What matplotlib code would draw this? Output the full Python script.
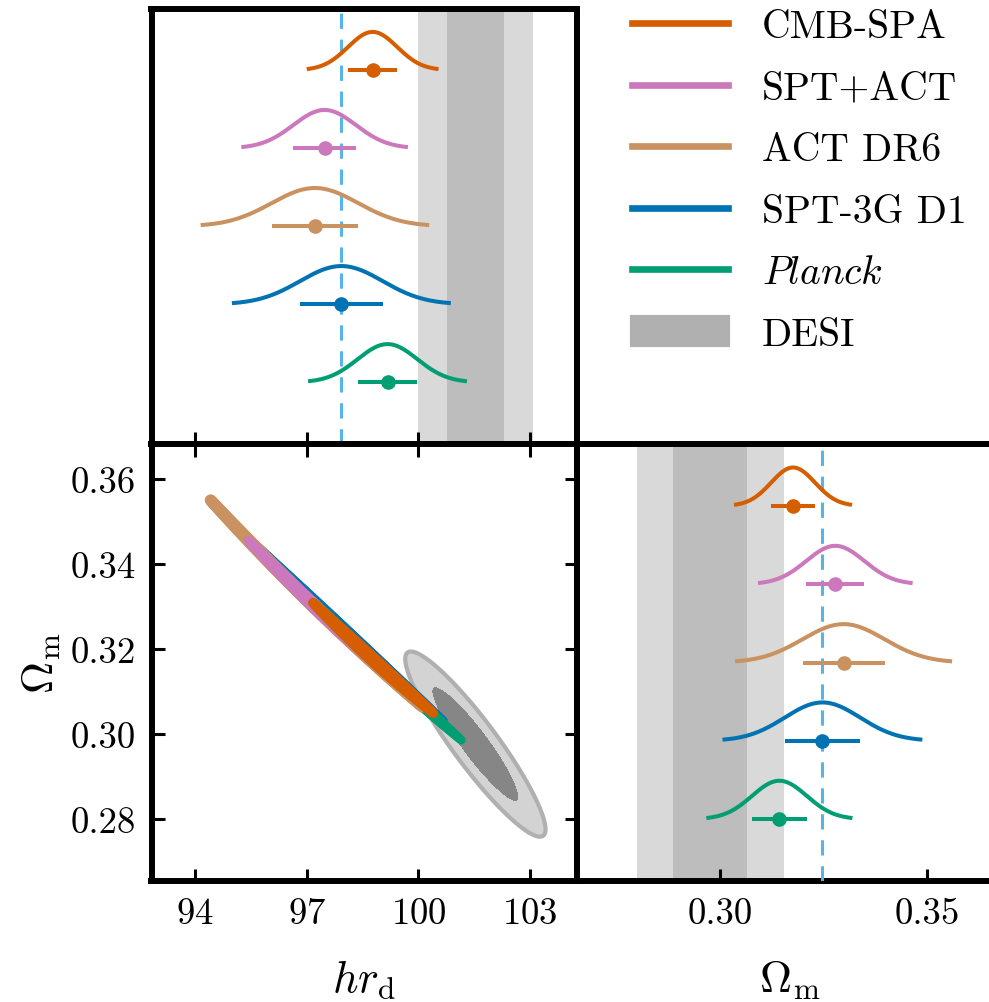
import numpy as np
import matplotlib.pyplot as plt
from matplotlib.lines import Line2D
from matplotlib.patches import Patch
from matplotlib.collections import LineCollection

plt.rcParams['font.family'] = 'serif'
plt.rcParams['font.serif'] = ['cmr10', 'DejaVu Serif']
plt.rcParams['mathtext.fontset'] = 'cm'
plt.rcParams['axes.formatter.use_mathtext'] = True

# CMB constraints: mean and 1-sigma of h*r_d and Omega_m
names = ['CMB-SPA', 'SPT+ACT', 'ACT DR6', 'SPT-3G D1', r'$Planck$']
colors = ['#d55e00', '#cc78bc', '#ca9161', '#0173b2', '#029e73']
hrd_mean = np.array([98.77, 97.48, 97.22, 97.93, 99.17])
hrd_err = np.array([0.66, 0.84, 1.16, 1.11, 0.80])
om_mean = np.array([0.3176, 0.3278, 0.3298, 0.3247, 0.3143])
om_err = np.array([0.0053, 0.0070, 0.0099, 0.0091, 0.0066])

# DESI BAO
desi_hrd, desi_hrd_err = 101.53, 0.77
desi_om, desi_om_err = 0.2976, 0.0089
desi_corr = -0.92

hrd_lim = (92.83, 104.26)
om_lim = (0.2654, 0.3682)
hrd_ticks = [94, 97, 100, 103]
om_ticks = [0.28, 0.30, 0.32, 0.34, 0.36]
om_ticks_1d = [0.30, 0.35]

# width (pt) and end taper of the 2D bands, and the order they are stacked in
band_lw = [10, 10, 10, 11.5, 9]
band_taper = [0.3, 0.3, 0.15, 0.55, 0.3]
band_order = [3, 4, 2, 1, 0]

W, H = 989, 1003
fig = plt.figure(figsize=(W / 100, H / 100), dpi=100)


def box(l, t, r, b):
    return [l / W, 1 - b / H, (r - l) / W, (b - t) / H]


ax_top = fig.add_axes(box(151.5, 9.5, 577, 445))
ax2d = fig.add_axes(box(151.5, 445, 577, 882))
axr = fig.add_axes(box(577, 445, 1002.5, 882))

for ax in (ax_top, ax2d, axr):
    for s in ax.spines.values():
        s.set_linewidth(4.3)
    ax.tick_params(direction='in', length=9, width=2.2, labelsize=26.5, pad=11)

light, dark = '#d9d9d9', '#bdbdbd'
peak = 0.49
nsig = 2.6


def posterior_1d(ax, mu, sig, base, c):
    x = np.linspace(mu - nsig * sig, mu + nsig * sig, 300)
    ax.plot(x, base + peak * np.exp(-0.5 * ((x - mu) / sig) ** 2), color=c, lw=2.9, zorder=4)
    ax.errorbar(mu, base, xerr=sig, fmt='o', color=c, ms=9.5, elinewidth=2.9, capsize=0, zorder=5)


# top: h r_d marginals
ax_top.axvspan(desi_hrd - 2 * desi_hrd_err, desi_hrd + 2 * desi_hrd_err, color=light, lw=0, zorder=1)
ax_top.axvspan(desi_hrd - desi_hrd_err, desi_hrd + desi_hrd_err, color=dark, lw=0, zorder=1)
ax_top.axvline(hrd_mean[3], color='#56b4e9', lw=2.2, ls=(0, (5, 3.5)), zorder=3)
for i in range(len(names)):
    posterior_1d(ax_top, hrd_mean[i], hrd_err[i], 4 - i, colors[i])
ax_top.set_xlim(hrd_lim)
ax_top.set_ylim(-0.79, 4.79)
ax_top.set_xticks(hrd_ticks)
ax_top.tick_params(labelbottom=False)
ax_top.set_yticks([])

# right: Omega_m marginals
axr.axvspan(desi_om - 2 * desi_om_err, desi_om + 2 * desi_om_err, color=light, lw=0, zorder=1)
axr.axvspan(desi_om - desi_om_err, desi_om + desi_om_err, color=dark, lw=0, zorder=1)
axr.axvline(om_mean[3], color='#56b4e9', lw=2.2, ls=(0, (5, 3.5)), zorder=3)
for i in range(len(names)):
    posterior_1d(axr, om_mean[i], om_err[i], 4 - i, colors[i])
axr.set_xlim(om_lim)
axr.set_ylim(-0.79, 4.79)
axr.set_xticks(om_ticks_1d)
axr.set_xticklabels(['0.30', '0.35'])
axr.set_yticks([])
axr.set_xlabel(r'$\Omega_{\rm m}$', fontsize=32, labelpad=20)

# 2D: DESI ellipse
gx = np.linspace(hrd_lim[0], hrd_lim[1], 900)
gy = np.linspace(om_lim[0], om_lim[1], 900)
X, Y = np.meshgrid(gx, gy)
dx = (X - desi_hrd) / desi_hrd_err
dy = (Y - desi_om) / desi_om_err
chi2 = (dx ** 2 - 2 * desi_corr * dx * dy + dy ** 2) / (1 - desi_corr ** 2)
ax2d.contourf(X, Y, chi2, levels=[0, 2.30, 5.99], colors=['#868686', '#d3d3d3'], zorder=1)
ax2d.contour(X, Y, chi2, levels=[5.99], colors=['#b0b0b0'], linewidths=3, zorder=1)

# CMB bands: narrow 95% regions along the h r_d - Omega_m degeneracy
t = np.linspace(-1, 1, 120)
tm = 0.5 * (t[:-1] + t[1:])
for i in band_order:
    hr = hrd_mean[i] * np.exp(t * 2.45 * hrd_err[i] / hrd_mean[i])
    om = om_mean[i] * np.exp(-t * 2.45 * om_err[i] / om_mean[i])
    pts = np.column_stack([hr, om])
    segs = np.stack([pts[:-1], pts[1:]], axis=1)
    lw = band_lw[i] * (1 - band_taper[i] * tm ** 2)
    lc = LineCollection(segs, colors=colors[i], linewidths=lw, capstyle='round', zorder=2)
    ax2d.add_collection(lc)

ax2d.set_xlim(hrd_lim)
ax2d.set_ylim(om_lim)
ax2d.set_xticks(hrd_ticks)
ax2d.set_yticks(om_ticks)
ax2d.set_yticklabels(['0.28', '0.30', '0.32', '0.34', '0.36'])
ax2d.tick_params(top=True, right=True)
ax2d.set_xlabel(r'$hr_{\rm d}$', fontsize=32, labelpad=20)
ax2d.set_ylabel(r'$\Omega_{\rm m}$', fontsize=32, labelpad=6)

handles = [Line2D([], [], color=c, lw=4.8) for c in colors]
handles.append(Patch(facecolor='#b0b0b0', edgecolor='#b0b0b0', lw=3))
fig.legend(handles, names + ['DESI'], loc='upper left',
           bbox_to_anchor=(632 / W, 1 - 10 / H), frameon=False, fontsize=28.5,
           handlelength=2.43, handletextpad=0.85, labelspacing=0.65,
           borderpad=0, borderaxespad=0)

fig.savefig('out.png', dpi=100)
